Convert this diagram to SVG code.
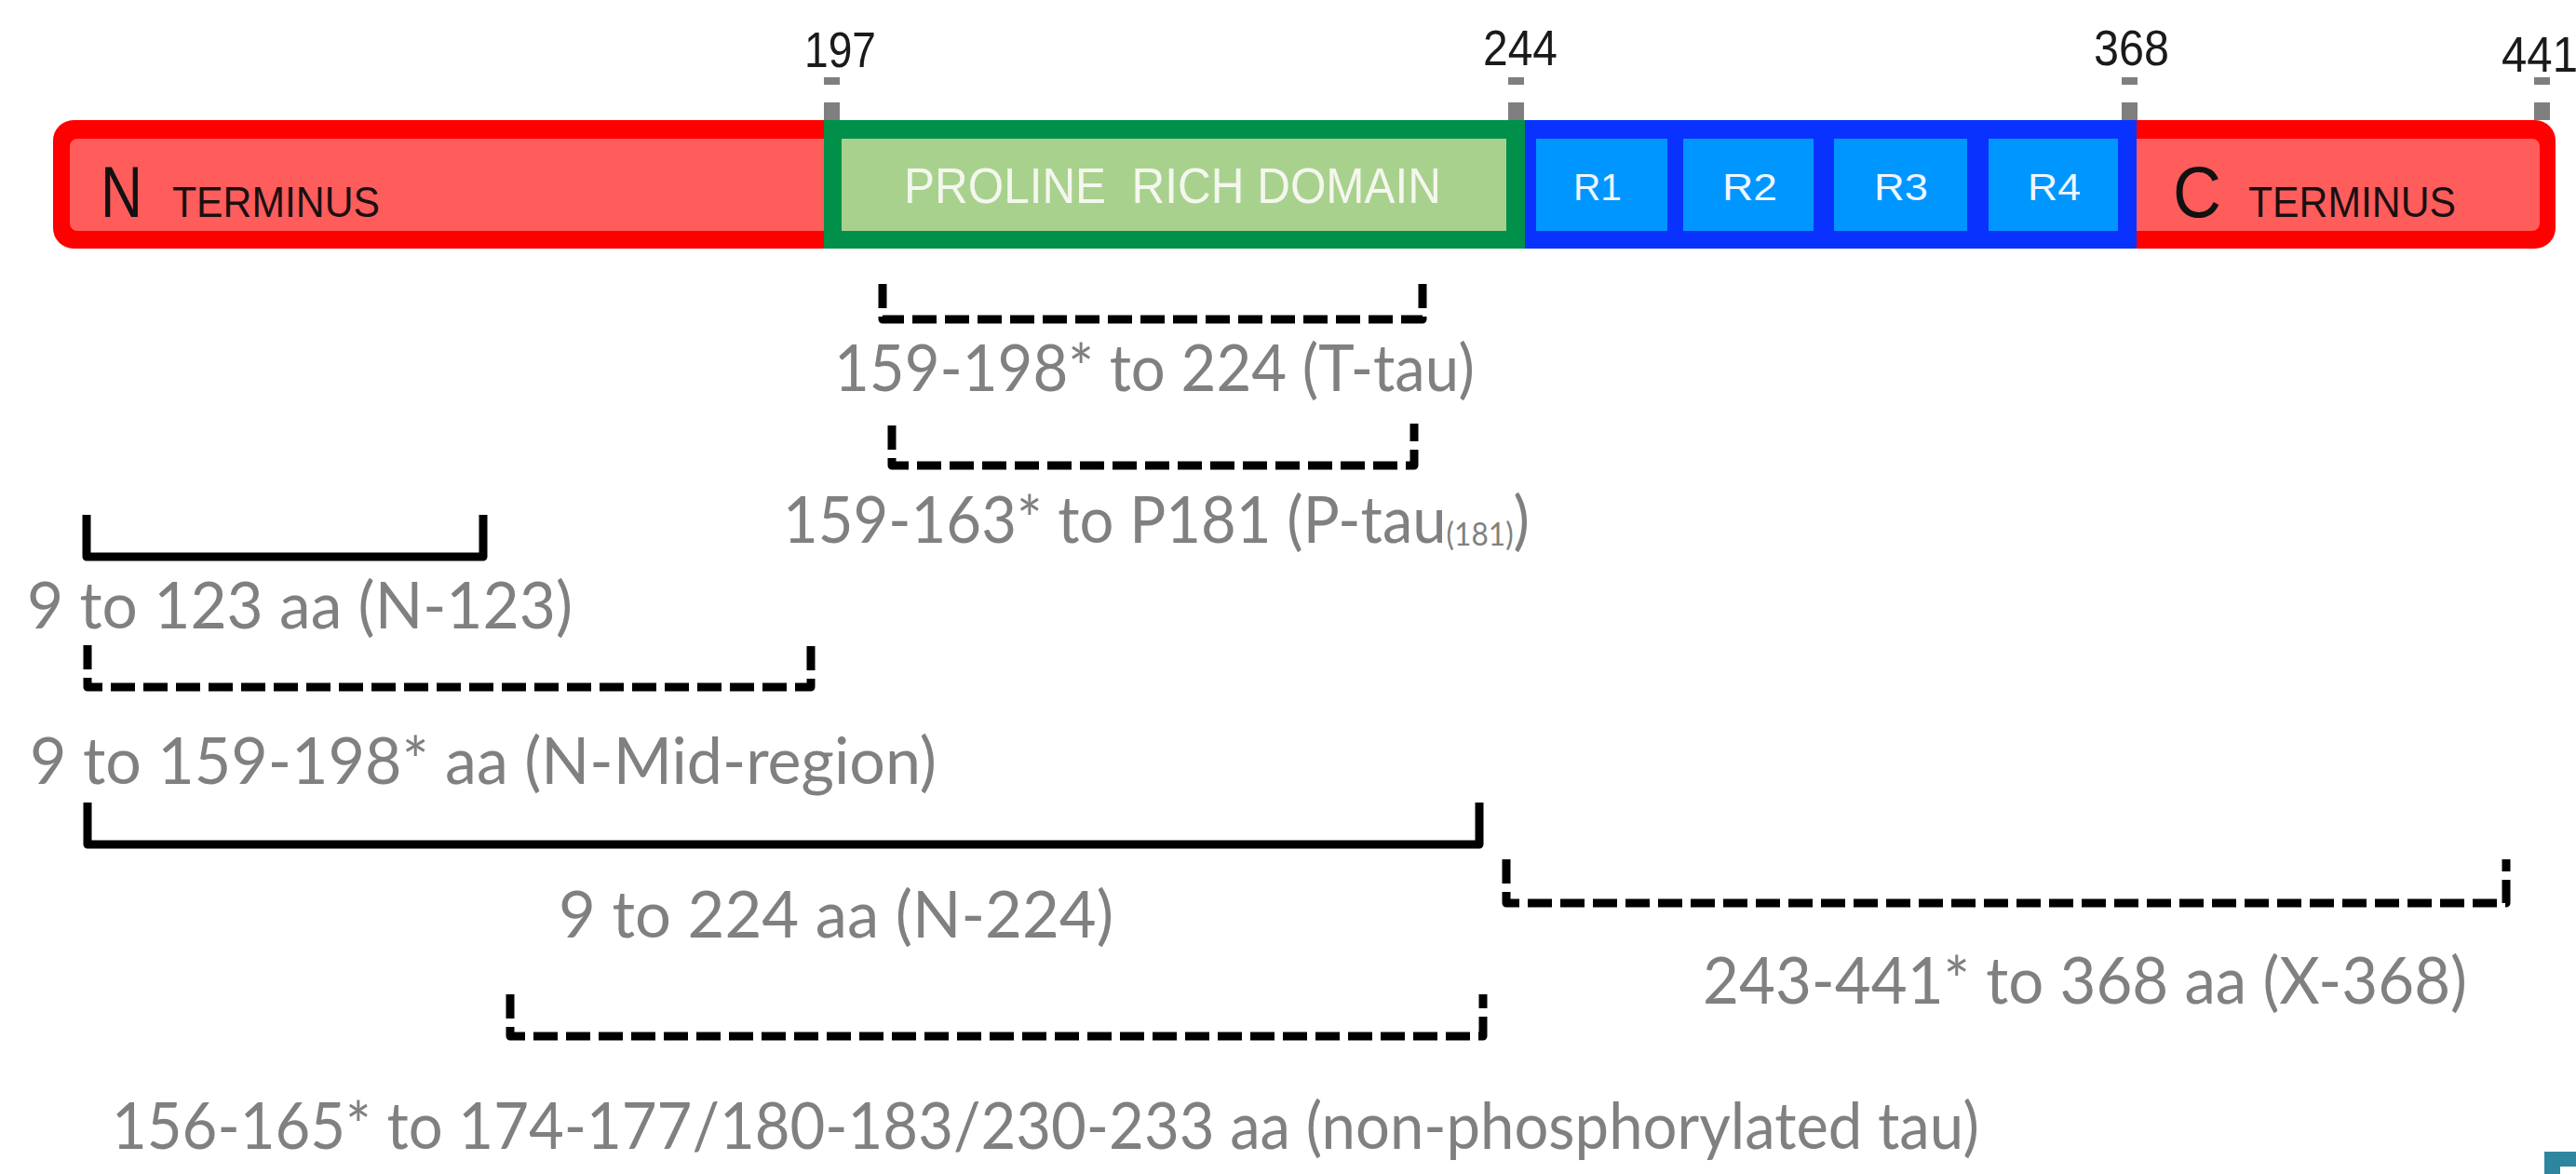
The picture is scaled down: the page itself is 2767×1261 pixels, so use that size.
<svg xmlns="http://www.w3.org/2000/svg" width="2767" height="1261" viewBox="0 0 2767 1261">
  <style>
    .tick { fill: #7f7f7f; }
    .num { font-family: "Liberation Sans", Arial, sans-serif; font-size: 54px; fill: #1a1a1a; }
    .term-big { font-family: "Liberation Sans", Arial, sans-serif; font-size: 78px; fill: #111111; }
    .term-small { font-family: "Liberation Sans", Arial, sans-serif; font-size: 47px; fill: #1a1010; }
    .dom { font-family: "Liberation Sans", Arial, sans-serif; font-size: 53px; fill: #f4f7ee; white-space: pre; }
    .rep { font-family: "Liberation Sans", Arial, sans-serif; font-size: 40px; fill: #eef6ff; }
    .lbl { font-family: Lato, "Open Sans", sans-serif; font-size: 70px; fill: #808080; }
    .sub { font-size: 34px; }
    .br { fill: none; stroke: #000000; stroke-width: 9; stroke-linejoin: round; }
    .dash { stroke-dasharray: 26 9; }
  </style>

  <rect width="2767" height="1261" fill="#ffffff"/>

  <!-- Protein bar -->
  <g id="protein-bar">
    <rect x="57" y="129" width="2688" height="138" rx="22" fill="#ff0000"/>
    <rect x="75" y="149" width="2653" height="99" rx="8" fill="#ff5c5c"/>
  </g>

  <g id="n-terminus">
    <text class="term-big" x="108" y="233" textLength="45" lengthAdjust="spacingAndGlyphs">N</text>
    <text class="term-small" x="185" y="233" textLength="223" lengthAdjust="spacingAndGlyphs">TERMINUS</text>
  </g>

  <g id="proline-rich-domain">
    <rect x="885" y="129" width="753" height="138" fill="#00904a"/>
    <rect x="904" y="149" width="714" height="99" fill="#a9d18e"/>
    <text class="dom" x="971" y="218" textLength="577" lengthAdjust="spacingAndGlyphs">PROLINE  RICH DOMAIN</text>
  </g>

  <g id="repeat-domain">
    <rect x="1638" y="129" width="657" height="138" fill="#0a32ff"/>
    <g id="r1">
      <rect x="1650" y="149" width="141" height="99" fill="#0096ff"/>
      <text class="rep" x="1690" y="215" textLength="52" lengthAdjust="spacingAndGlyphs">R1</text>
    </g>
    <g id="r2">
      <rect x="1808" y="149" width="140" height="99" fill="#0096ff"/>
      <text class="rep" x="1850" y="215" textLength="59" lengthAdjust="spacingAndGlyphs">R2</text>
    </g>
    <g id="r3">
      <rect x="1970" y="149" width="143" height="99" fill="#0096ff"/>
      <text class="rep" x="2013" y="215" textLength="58" lengthAdjust="spacingAndGlyphs">R3</text>
    </g>
    <g id="r4">
      <rect x="2136" y="149" width="139" height="99" fill="#0096ff"/>
      <text class="rep" x="2178" y="215" textLength="57" lengthAdjust="spacingAndGlyphs">R4</text>
    </g>
  </g>

  <g id="c-terminus">
    <text class="term-big" x="2334" y="233" textLength="52" lengthAdjust="spacingAndGlyphs">C</text>
    <text class="term-small" x="2415" y="233" textLength="223" lengthAdjust="spacingAndGlyphs">TERMINUS</text>
  </g>

  <!-- Residue position markers -->
  <g id="marker-197">
    <rect class="tick" x="885" y="83" width="17" height="8"/>
    <rect class="tick" x="885" y="110" width="17" height="19"/>
    <text class="num" x="864" y="72" textLength="77" lengthAdjust="spacingAndGlyphs">197</text>
  </g>
  <g id="marker-244">
    <rect class="tick" x="1620" y="83" width="17" height="8"/>
    <rect class="tick" x="1620" y="110" width="17" height="19"/>
    <text class="num" x="1593" y="70" textLength="80" lengthAdjust="spacingAndGlyphs">244</text>
  </g>
  <g id="marker-368">
    <rect class="tick" x="2279" y="83" width="17" height="8"/>
    <rect class="tick" x="2279" y="110" width="17" height="19"/>
    <text class="num" x="2249" y="70" textLength="81" lengthAdjust="spacingAndGlyphs">368</text>
  </g>
  <g id="marker-441">
    <rect class="tick" x="2722" y="83" width="17" height="8"/>
    <rect class="tick" x="2722" y="110" width="17" height="19"/>
    <text class="num" x="2687" y="77" textLength="82" lengthAdjust="spacingAndGlyphs">441</text>
  </g>

  <!-- Epitope range brackets -->
  <g id="connectors">
    <path class="br dash" d="M948,305 V343 H1528 V298"/>
    <path class="br dash" d="M958,457 V500 H1519 V455"/>
    <path class="br" d="M93,553 V598 H519 V553"/>
    <path class="br dash" d="M94,693 V738 H871 V692"/>
    <path class="br" d="M94,862 V907 H1589 V862"/>
    <path class="br dash" d="M1618,923 V970 H2692 V923"/>
    <path class="br dash" d="M548,1068 V1113 H1593 V1068"/>
  </g>

  <!-- Range labels -->
  <g id="label-t-tau">
    <text class="lbl" x="896" y="420" textLength="688" lengthAdjust="spacingAndGlyphs">159-198* to 224 (T-tau)</text>
  </g>
  <g id="label-p-tau">
    <text class="lbl" x="841" y="583" textLength="802" lengthAdjust="spacingAndGlyphs">159-163* to P181 (P-tau<tspan class="sub" dy="3">(181)</tspan><tspan dy="-3">)</tspan></text>
  </g>
  <g id="label-n-123">
    <text class="lbl" x="29" y="675" textLength="586" lengthAdjust="spacingAndGlyphs">9 to 123 aa (N-123)</text>
  </g>
  <g id="label-n-mid">
    <text class="lbl" x="32" y="842" textLength="974" lengthAdjust="spacingAndGlyphs">9 to 159-198* aa (N-Mid-region)</text>
  </g>
  <g id="label-n-224">
    <text class="lbl" x="600" y="1007" textLength="596" lengthAdjust="spacingAndGlyphs">9 to 224 aa (N-224)</text>
  </g>
  <g id="label-x-368">
    <text class="lbl" x="1829" y="1078" textLength="821" lengthAdjust="spacingAndGlyphs">243-441* to 368 aa (X-368)</text>
  </g>
  <g id="label-non-phospho">
    <text class="lbl" x="120" y="1234" textLength="2006" lengthAdjust="spacingAndGlyphs">156-165* to 174-177/180-183/230-233 aa (non-phosphorylated tau)</text>
  </g>

  <!-- Corner mark -->
  <path d="M2733,1261 V1237 H2767 V1253 H2750 V1261 Z" fill="#2e869e"/>
</svg>
